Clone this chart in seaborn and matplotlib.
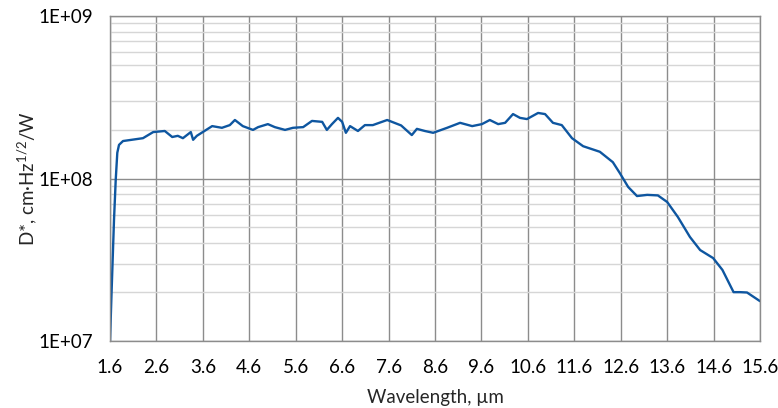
import matplotlib
matplotlib.use("Agg")
import matplotlib.pyplot as plt
import matplotlib.ticker as mticker
import pandas as pd
import seaborn as sns

# spectral detectivity curve
wavelength = [1.60, 1.635, 1.686, 1.723, 1.757, 1.794, 1.88, 2.31, 2.53, 2.78, 2.94, 3.06, 3.17, 3.34,
              3.39, 3.47, 3.80, 4.01, 4.18, 4.29, 4.46, 4.68, 4.79, 5.00, 5.15, 5.37, 5.54, 5.76,
              5.95, 6.17, 6.27, 6.38, 6.51, 6.60, 6.68, 6.77, 6.94, 7.09, 7.26, 7.57, 7.87, 8.10,
              8.21, 8.38, 8.56, 8.86, 9.14, 9.40, 9.61, 9.78, 9.96, 10.11, 10.28, 10.43, 10.58,
              10.82, 10.97, 11.14, 11.33, 11.55, 11.79, 12.15, 12.43, 12.58, 12.76, 12.95, 13.17,
              13.40, 13.60, 13.83, 14.09, 14.31, 14.59, 14.79, 15.03, 15.17, 15.32, 15.60]
detectivity = [1.0e7, 2.05e7, 5.56e7, 9.8e7, 1.44e8, 1.61e8, 1.70e8, 1.77e8, 1.93e8, 1.96e8, 1.80e8,
               1.83e8, 1.77e8, 1.93e8, 1.73e8, 1.83e8, 2.10e8, 2.05e8, 2.13e8, 2.29e8, 2.10e8,
               1.99e8, 2.07e8, 2.16e8, 2.07e8, 1.99e8, 2.05e8, 2.07e8, 2.26e8, 2.23e8, 1.99e8,
               2.16e8, 2.36e8, 2.23e8, 1.91e8, 2.10e8, 1.96e8, 2.13e8, 2.13e8, 2.29e8, 2.12e8,
               1.85e8, 2.02e8, 1.96e8, 1.91e8, 2.05e8, 2.20e8, 2.10e8, 2.16e8, 2.29e8, 2.16e8,
               2.20e8, 2.49e8, 2.36e8, 2.32e8, 2.53e8, 2.49e8, 2.20e8, 2.13e8, 1.77e8, 1.58e8,
               1.46e8, 1.26e8, 1.08e8, 8.87e7, 7.80e7, 7.93e7, 7.87e7, 7.17e7, 5.8e7, 4.37e7,
               3.63e7, 3.24e7, 2.74e7, 2.0e7, 2.0e7, 1.99e7, 1.76e7]
x_ticks = [1.6, 2.6, 3.6, 4.6, 5.6, 6.6, 7.6, 8.6, 9.6, 10.6, 11.6, 12.6, 13.6, 14.6, 15.6]
y_ticks = [1e7, 1e8, 1e9]
y_tick_labels = ["1E+07", "1E+08", "1E+09"]

df = pd.DataFrame({"wl": wavelength, "D": detectivity})

sns.set_theme(style="white")
plt.rcParams["font.family"] = ["Lato", "DejaVu Sans"]
plt.rcParams["mathtext.default"] = "regular"

fig = plt.figure(figsize=(7.78, 4.08), dpi=100)
ax = fig.add_axes([0.1414, 0.164, 0.8355, 0.797])

sns.lineplot(data=df, x="wl", y="D", ax=ax, color="#0E56A0", linewidth=1.7)

ax.set_yscale("log")
ax.set_xlim(1.6, 15.6)
ax.set_ylim(1e7, 1e9)
ax.set_xticks(x_ticks)
ax.set_xticklabels([f"{t:.1f}" for t in x_ticks])
ax.set_yticks(y_ticks)
ax.set_yticklabels(y_tick_labels)
ax.yaxis.set_minor_locator(mticker.LogLocator(base=10, subs=range(2, 10)))
ax.yaxis.set_minor_formatter(mticker.NullFormatter())

ax.grid(True, which="major", axis="both", color="#8C8C8C", linewidth=1.0)
ax.grid(True, which="minor", axis="y", color="#D6D6D6", linewidth=1.0)
ax.set_axisbelow(True)
for s in ax.spines.values():
    s.set_color("#8C8C8C")
    s.set_linewidth(1.0)

ax.tick_params(axis="both", which="both", length=0, labelsize=13.5, colors="black")
ax.tick_params(axis="x", pad=13)
ax.tick_params(axis="y", pad=12)
ax.set_xlabel("Wavelength, µm", fontsize=13.5, labelpad=9)
ax.set_ylabel("D*, cm·Hz$^{1/2}$/W", fontsize=13.5, labelpad=0)

fig.savefig("out.png", dpi=100)
